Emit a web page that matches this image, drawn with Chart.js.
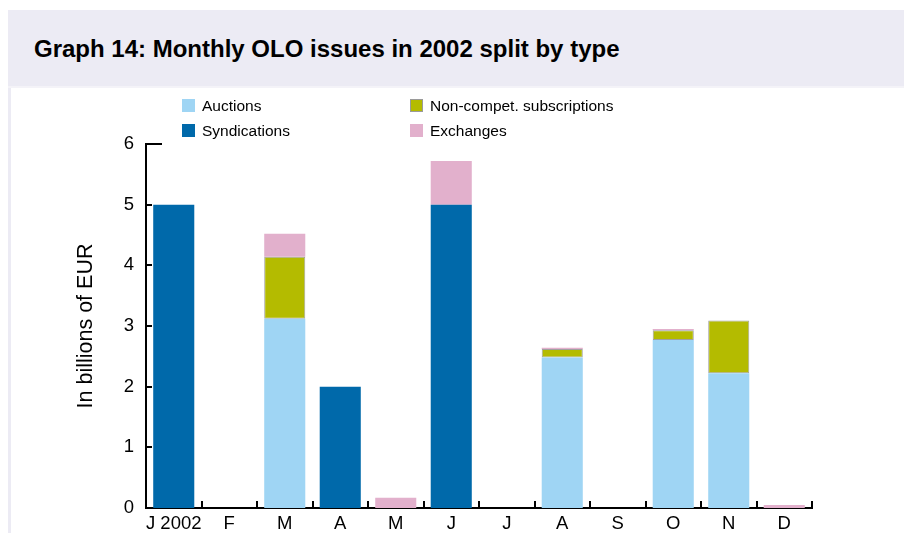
<!DOCTYPE html>
<html>
<head>
<meta charset="utf-8">
<script src="https://cdn.jsdelivr.net/npm/chart.js@4/dist/chart.umd.min.js"></script>
<style>
  body { margin: 0; background: #fff; font-family: "Liberation Sans", Arial, sans-serif; }
  #page { position: relative; width: 904px; height: 533px; overflow: hidden; }
  #header { position: absolute; left: 8px; top: 10px; width: 896px; height: 76px; background: #ecebf4; }
  #header .rule { position: absolute; left: 0; right: 0; bottom: -2px; height: 2px; background: #f4f3f8; }
  #title { position: absolute; left: 26px; top: 25px; font-size: 24px; line-height: 28px; font-weight: bold; color: #000; white-space: nowrap; }
  #leftbar { position: absolute; left: 8px; top: 88px; width: 3px; height: 445px; background: #ecebf4; }
  #wrap { position: absolute; left: 11px; top: 88px; width: 893px; height: 445px; }
  #legend { position: absolute; left: 0; top: 0; font-size: 15.5px; color: #000; }
  .item { position: absolute; white-space: nowrap; height: 18px; line-height: 18px; }
  .item span.box { position: absolute; left: 0; top: 2px; width: 13px; height: 13px; }
  .item span.txt { position: absolute; left: 20px; top: 0; }
</style>
</head>
<body>
<div id="page">
  <div id="header"><div id="title">Graph 14: Monthly OLO issues in 2002 split by type</div><div class="rule"></div></div>
  <div id="leftbar"></div>
  <div id="wrap"><canvas id="olo"></canvas></div>
  <div id="legend"></div>
</div>
<script>
const months = ['J 2002', 'F', 'M', 'A', 'M', 'J', 'J', 'A', 'S', 'O', 'N', 'D'];
const syndications = [5, 0, 0, 2, 0, 5, 0, 0, 0, 0, 0, 0];
const auctions = [0, 0, 3.12, 0, 0, 0, 0, 2.48, 0, 2.77, 2.22, 0];
const noncompet = [0, 0, 1.02, 0, 0, 0, 0, 0.14, 0, 0.16, 0.87, 0];
const exchanges = [0, 0, 0.38, 0, 0.17, 0.72, 0, 0.02, 0, 0.02, 0, 0.05];
const yTicks = [0, 1, 2, 3, 4, 5, 6];

const colors = {
    auctions: '#9fd5f4',
    syndications: '#0069aa',
    noncompet: '#b4bb00',
    exchanges: '#e2b0cc'
};

// legend laid out in two columns like the original
const legendItems = [
    { text: 'Auctions', color: colors.auctions, x: 182, y: 97 },
    { text: 'Non-compet. subscriptions', color: colors.noncompet, x: 410, y: 97, border: '#9a9a9a' },
    { text: 'Syndications', color: colors.syndications, x: 182, y: 122 },
    { text: 'Exchanges', color: colors.exchanges, x: 410, y: 122 }
];
const legendEl = document.getElementById('legend');
legendItems.forEach(function (it) {
    const d = document.createElement('div');
    d.className = 'item';
    d.style.left = it.x + 'px';
    d.style.top = it.y + 'px';
    d.innerHTML = '<span class="box"></span><span class="txt"></span>';
    d.querySelector('.box').style.background = it.color;
    if (it.border) d.querySelector('.box').style.boxShadow = 'inset 0 0 0 1px ' + it.border;
    d.querySelector('.txt').textContent = it.text;
    legendEl.appendChild(d);
});

// small tick marks pointing into the plot
const innerTicks = {
    id: 'innerTicks',
    afterDatasetsDraw(chart) {
        const ctx = chart.ctx;
        const x = chart.scales.x, y = chart.scales.y;
        ctx.save();
        ctx.strokeStyle = '#000';
        ctx.lineWidth = 2;
        ctx.beginPath();
        yTicks.forEach(function (v) {
            const py = Math.round(y.getPixelForValue(v));
            if (v === 0) return;
            const len = v === 6 ? 16 : 6;
            ctx.moveTo(x.left, py);
            ctx.lineTo(x.left + len, py);
        });
        const w = (x.right - x.left) / months.length;
        for (let i = 1; i <= months.length; i++) {
            const px = Math.round(x.left + i * w);
            ctx.moveTo(px, y.bottom);
            ctx.lineTo(px, y.bottom - 7);
        }
        ctx.stroke();
        ctx.restore();
    }
};

function bar(label, data, color, border) {
    return {
        label: label,
        data: data,
        backgroundColor: color,
        borderColor: border || color,
        borderWidth: function (c) { return border && c.raw > 0 ? 1 : 0; },
        borderSkipped: false,
        categoryPercentage: 1,
        barPercentage: 0.74
    };
}

document.addEventListener('DOMContentLoaded', function () {
    const ctx = document.getElementById('olo').getContext('2d');
    new Chart(ctx, {
        type: 'bar',
        data: {
            labels: months,
            datasets: [
                bar('Syndications', syndications, colors.syndications),
                bar('Auctions', auctions, colors.auctions),
                bar('Non-compet. subscriptions', noncompet, colors.noncompet, '#a0a0a0'),
                bar('Exchanges', exchanges, colors.exchanges)
            ]
        },
        options: {
            responsive: true,
            maintainAspectRatio: false,
            animation: false,
            layout: { padding: { top: 56, right: 92, left: 0, bottom: 0 } },
            scales: {
                x: {
                    stacked: true,
                    grid: { display: false },
                    border: { color: '#000', width: 2 },
                    ticks: {
                        color: '#000',
                        padding: -3,
                        autoSkip: false,
                        maxRotation: 0,
                        font: { family: '"Liberation Sans", Arial', size: 18.5 }
                    },
                    afterFit: function (s) { s.height = 25; }
                },
                y: {
                    stacked: true,
                    min: 0,
                    max: 6,
                    grid: { display: false },
                    border: { color: '#000', width: 2 },
                    ticks: {
                        stepSize: 1,
                        color: '#000',
                        padding: 4,
                        font: { family: '"Liberation Sans", Arial', size: 18.5 }
                    },
                    title: {
                        display: true,
                        text: 'In billions of EUR',
                        color: '#000',
                        padding: { top: 62, bottom: 0 },
                        font: { family: '"Liberation Sans", Arial', size: 21.5 }
                    },
                    afterFit: function (s) { s.width = 135; }
                }
            },
            plugins: {
                legend: { display: false },
                title: { display: false },
                tooltip: { enabled: false }
            }
        },
        plugins: [innerTicks]
    });
});
</script>
</body>
</html>
